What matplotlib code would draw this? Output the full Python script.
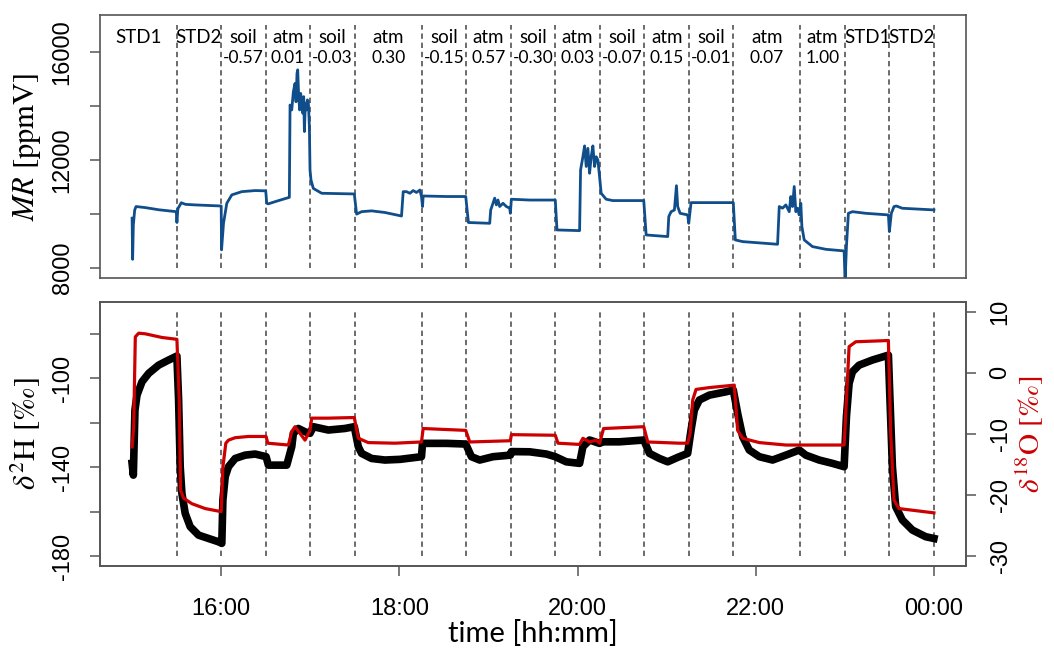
import matplotlib
matplotlib.use("Agg")
import matplotlib.pyplot as plt
from matplotlib.ticker import FixedLocator, FuncFormatter

plt.rcParams['mathtext.fontset'] = 'stix'
plt.rcParams['axes.unicode_minus'] = False

# segment boundaries (decimal hours) and labels
bounds = [15.5, 16.0, 16.5, 17.0, 17.5, 18.25, 18.75, 19.25, 19.75, 20.25,
          20.75, 21.25, 21.75, 22.5, 23.0, 23.5, 24.0]
seg_names = ["STD1", "STD2", "soil", "atm", "soil", "atm", "soil", "atm", "soil",
             "atm", "soil", "atm", "soil", "atm", "atm", "STD1", "STD2"]
seg_values = ["", "", "-0.57", "0.01", "-0.03", "0.30", "-0.15", "0.57", "-0.30",
              "0.03", "-0.07", "0.15", "-0.01", "0.07", "1.00", "", ""]

# water vapour mixing ratio [ppmV]
mr_t = [15.000, 15.006, 15.014, 15.029, 15.044, 15.150, 15.300, 15.496, 15.503, 15.514,
        15.552, 15.600, 15.709, 16.000, 16.004, 16.026, 16.063, 16.119, 16.231, 16.381,
        16.500, 16.511, 16.530, 16.605, 16.765, 16.773, 16.792, 16.810, 16.829, 16.840,
        16.851, 16.859, 16.870, 16.881, 16.892, 16.904, 16.915, 16.926, 16.934, 16.945,
        16.956, 16.967, 16.978, 16.990, 16.997, 17.008, 17.034, 17.128, 17.494, 17.520,
        17.576, 17.688, 17.838, 18.024, 18.043, 18.080, 18.118, 18.155, 18.192, 18.230,
        18.248, 18.260, 18.267, 18.528, 18.745, 18.775, 19.014, 19.025, 19.051, 19.070,
        19.089, 19.107, 19.126, 19.163, 19.201, 19.238, 19.246, 19.257, 19.462, 19.750,
        19.769, 20.023, 20.034, 20.041, 20.060, 20.079, 20.097, 20.116, 20.135, 20.153,
        20.172, 20.191, 20.209, 20.228, 20.247, 20.265, 20.321, 20.396, 20.743, 20.770,
        21.012, 21.024, 21.050, 21.087, 21.110, 21.124, 21.151, 21.180, 21.236, 21.248,
        21.274, 21.479, 21.748, 21.771, 21.853, 22.245, 22.264, 22.301, 22.338, 22.376,
        22.394, 22.413, 22.432, 22.450, 22.469, 22.488, 22.506, 22.518, 22.544, 22.637,
        22.787, 22.992, 23.003, 23.018, 23.040, 23.085, 23.235, 23.489, 23.500, 23.522,
        23.552, 23.578, 23.646, 24.000]
mr_v = [9850, 8330, 9600, 10150, 10280, 10240, 10160, 10090, 9690, 10200,
        10420, 10360, 10340, 10300, 8680, 9660, 10400, 10710, 10830, 10870,
        10860, 10400, 10380, 10460, 10620, 14030, 13850, 14520, 14830, 14150,
        15200, 15330, 14340, 13850, 14460, 14100, 13730, 14340, 13050, 14100,
        13850, 14220, 14160, 13230, 11630, 11260, 10950, 10770, 10745, 10000,
        10090, 10120, 10060, 9930, 10830, 10830, 10770, 10870, 10800, 10890,
        10650, 10280, 10670, 10650, 10650, 9690, 9660, 10150, 10400, 10590,
        10340, 10520, 10280, 10400, 10280, 10220, 10030, 10550, 10520, 10520,
        9415, 9390, 11630, 11760, 12120, 12520, 11760, 12430, 11510, 12120,
        12520, 11760, 12120, 12000, 11390, 10770, 10550, 10500, 10500, 9230,
        9170, 9910, 10090, 10150, 11050, 10280, 10030, 10010, 9970, 9660,
        10425, 10425, 10425, 9046, 8984, 8886, 10280, 10220, 10340, 10090,
        10650, 10280, 11020, 10090, 10220, 9970, 10400, 9540, 9046, 8800,
        8700, 8640, 7500, 8800, 10030, 10090, 10030, 9970, 9354, 10031,
        10278, 10300, 10216, 10155]

# delta 2H [permil]
d2h_t = [15.000, 15.014, 15.032, 15.055, 15.111, 15.186, 15.298, 15.410, 15.503, 15.522,
         15.540, 15.559, 15.596, 15.652, 15.746, 15.858, 15.970, 16.007, 16.019, 16.045,
         16.082, 16.157, 16.269, 16.381, 16.504, 16.530, 16.642, 16.736, 16.792, 16.810,
         16.866, 16.941, 16.997, 17.034, 17.203, 17.389, 17.494, 17.539, 17.576, 17.688,
         17.838, 18.006, 18.248, 18.260, 18.528, 18.745, 18.809, 18.902, 19.051, 19.246,
         19.257, 19.462, 19.649, 19.750, 19.873, 20.023, 20.060, 20.135, 20.247, 20.284,
         20.471, 20.743, 20.807, 20.919, 21.012, 21.124, 21.236, 21.274, 21.311, 21.367,
         21.479, 21.666, 21.748, 21.797, 21.853, 21.927, 22.040, 22.189, 22.338, 22.488,
         22.562, 22.712, 22.861, 22.992, 23.018, 23.048, 23.085, 23.160, 23.309, 23.489,
         23.507, 23.534, 23.571, 23.646, 23.758, 23.907, 24.000]
d2h_v = [-138.2, -143.5, -114.2, -107.5, -101.5, -97.7, -94.0, -91.7, -89.9, -109.7,
         -139.7, -151.7, -160.7, -166.7, -170.5, -172.0, -173.5, -174.2, -154.7, -144.2,
         -139.7, -136.0, -134.5, -134.0, -135.2, -139.0, -139.0, -139.0, -130.7, -124.7,
         -122.5, -124.0, -124.7, -121.7, -123.2, -122.5, -121.7, -130.7, -133.7, -136.0,
         -136.7, -136.4, -135.2, -129.2, -129.2, -129.5, -135.2, -136.7, -135.2, -134.5,
         -132.9, -133.0, -134.0, -135.2, -137.5, -138.2, -130.7, -127.7, -129.2, -128.5,
         -128.5, -127.7, -133.7, -136.0, -137.5, -135.5, -133.7, -123.2, -114.2, -109.7,
         -107.5, -106.0, -105.2, -115.7, -126.2, -132.2, -135.2, -136.7, -134.5, -132.2,
         -134.5, -136.7, -138.2, -139.7, -117.2, -102.2, -97.0, -94.0, -91.7, -89.5,
         -109.7, -139.7, -157.7, -163.7, -168.2, -171.2, -172.0]

# delta 18O [permil]
d18o_t = [15.000, 15.018, 15.036, 15.074, 15.148, 15.335, 15.503, 15.529, 15.544, 15.578,
          15.671, 15.821, 16.000, 16.019, 16.052, 16.082, 16.157, 16.306, 16.504, 16.523,
          16.754, 16.792, 16.829, 16.885, 16.941, 16.997, 17.016, 17.203, 17.494, 17.539,
          17.651, 17.950, 18.248, 18.267, 18.745, 18.790, 19.246, 19.257, 19.750, 19.780,
          20.023, 20.060, 20.135, 20.209, 20.247, 20.292, 20.743, 20.788, 21.143, 21.236,
          21.263, 21.293, 21.330, 21.479, 21.759, 21.797, 21.853, 22.040, 22.338, 22.992,
          23.018, 23.048, 23.123, 23.489, 23.515, 23.552, 23.608, 23.832, 24.000]
d18o_v = [-12.1, -8.8, 5.9, 6.5, 6.4, 5.8, 5.5, -4.4, -19.2, -20.5,
          -21.4, -22.2, -22.7, -15.4, -11.5, -11.0, -10.6, -10.4, -10.4, -11.5,
          -11.8, -9.6, -8.8, -9.9, -11.0, -9.4, -7.4, -7.4, -7.3, -10.7,
          -11.4, -11.5, -11.3, -9.1, -9.4, -11.3, -11.1, -10.1, -10.2, -11.5,
          -11.7, -10.7, -11.3, -11.0, -11.5, -9.1, -8.8, -11.3, -11.5, -11.5,
          -9.9, -4.4, -2.7, -2.4, -2.0, -9.4, -10.7, -11.4, -11.8, -11.8,
          -4.4, 4.3, 5.1, 5.3, -9.9, -20.8, -22.2, -22.6, -22.9]

tick_family = "Liberation Sans"
tick_size = 17
label_font = "Lato"
frame_col = "#555555"
dash_col = "#444444"


def hhmm(v, pos=None):
    h = int(round(v * 60)) // 60
    m = int(round(v * 60)) % 60
    return f"{h % 24:02d}:{m:02d}"


def style_axes(ax, side=None):
    for sp in ax.spines.values():
        sp.set_color(frame_col)
        sp.set_linewidth(1.2)
    ax.tick_params(direction="out", length=7, width=1.1, color=frame_col,
                   labelsize=tick_size)
    for lbl in ax.get_xticklabels():
        lbl.set_family(tick_family)
    # y labels written along the axis, like R's las=0
    if side == "left":
        for lbl in ax.get_yticklabels():
            lbl.set(family=tick_family, rotation=90, rotation_mode="anchor",
                    ha="center", va="bottom")
    elif side == "right":
        for lbl in ax.get_yticklabels():
            lbl.set(family=tick_family, rotation=90, rotation_mode="anchor",
                    ha="center", va="top")


fig = plt.figure(figsize=(10.54, 6.48), dpi=100)
ax1 = fig.add_axes([0.0949, 0.571, 0.8216, 0.406])
ax2 = fig.add_axes([0.0949, 0.1265, 0.8216, 0.4074])
ax3 = ax2.twinx()

xlim = (14.64, 24.36)

# --- top panel: mixing ratio ---
ax1.vlines(bounds, 8000, 17000, colors=dash_col, linestyles=(0, (3.5, 2.5)), lw=1.1, zorder=1)
ax1.plot(mr_t, mr_v, color="#104E8B", lw=2.0, zorder=2)
ax1.set_xlim(*xlim)
ax1.set_ylim(7640, 17360)
ax1.yaxis.set_major_locator(FixedLocator([8000, 10000, 12000, 14000, 16000]))
ax1.yaxis.set_major_formatter(FuncFormatter(lambda v, p: f"{v:.0f}" if v % 4000 == 0 else ""))
ax1.tick_params(axis="x", bottom=False, labelbottom=False)
ax1.tick_params(axis="y", pad=12)
ax1.set_ylabel(r"$\mathit{MR}$ [ppmV]", family="STIXGeneral", fontsize=22, labelpad=6)
style_axes(ax1, "left")

# segment labels at segment centres
starts = [xlim[0]] + bounds[:-1]
for s, e, name, val in zip(starts, bounds, seg_names, seg_values):
    xc = (s + e) / 2
    ax1.text(xc, 0.915, name, transform=ax1.get_xaxis_transform(), ha="center", va="center",
             family=label_font, fontsize=13.5)
    if val:
        ax1.text(xc, 0.835, val, transform=ax1.get_xaxis_transform(), ha="center", va="center",
                 family=label_font, fontsize=12.5)

# --- bottom panel: isotopes ---
ax2.vlines(bounds, -180, -70, colors=dash_col, linestyles=(0, (3.5, 2.5)), lw=1.1, zorder=1)
ax2.plot(d2h_t, d2h_v, color="black", lw=5.5, zorder=2)
ax3.plot(d18o_t, d18o_v, color="#CC0000", lw=2.3, zorder=3)
ax2.set_xlim(*xlim)
ax2.set_ylim(-184.4, -65.6)
ax3.set_ylim(-31.6, 11.6)
ax2.xaxis.set_major_locator(FixedLocator([16, 18, 20, 22, 24]))
ax2.xaxis.set_major_formatter(FuncFormatter(hhmm))
ax2.yaxis.set_major_locator(FixedLocator([-180, -160, -140, -120, -100, -80]))
ax2.yaxis.set_major_formatter(FuncFormatter(lambda v, p: f"{v:.0f}" if v % 40 == 20 else ""))
ax3.yaxis.set_major_locator(FixedLocator([-30, -20, -10, 0, 10]))
ax3.yaxis.set_major_formatter(FuncFormatter(lambda v, p: f"{v:.0f}"))
ax2.tick_params(axis="y", pad=12)
ax3.tick_params(axis="y", pad=10)
ax2.tick_params(axis="x", pad=16)
ax2.set_ylabel(r"$\delta^{2}$H [‰]", family=["STIXGeneral", "DejaVu Serif"], fontsize=22, labelpad=6)
ax3.set_ylabel(r"$\delta^{18}$O [‰]", family=["STIXGeneral", "DejaVu Serif"], fontsize=21,
               color="#CC0000", rotation=90, labelpad=2)
ax2.set_xlabel("time [hh:mm]", family=label_font, fontsize=21, labelpad=0)
style_axes(ax2, "left")
style_axes(ax3, "right")

fig.savefig("out.png", dpi=100)
